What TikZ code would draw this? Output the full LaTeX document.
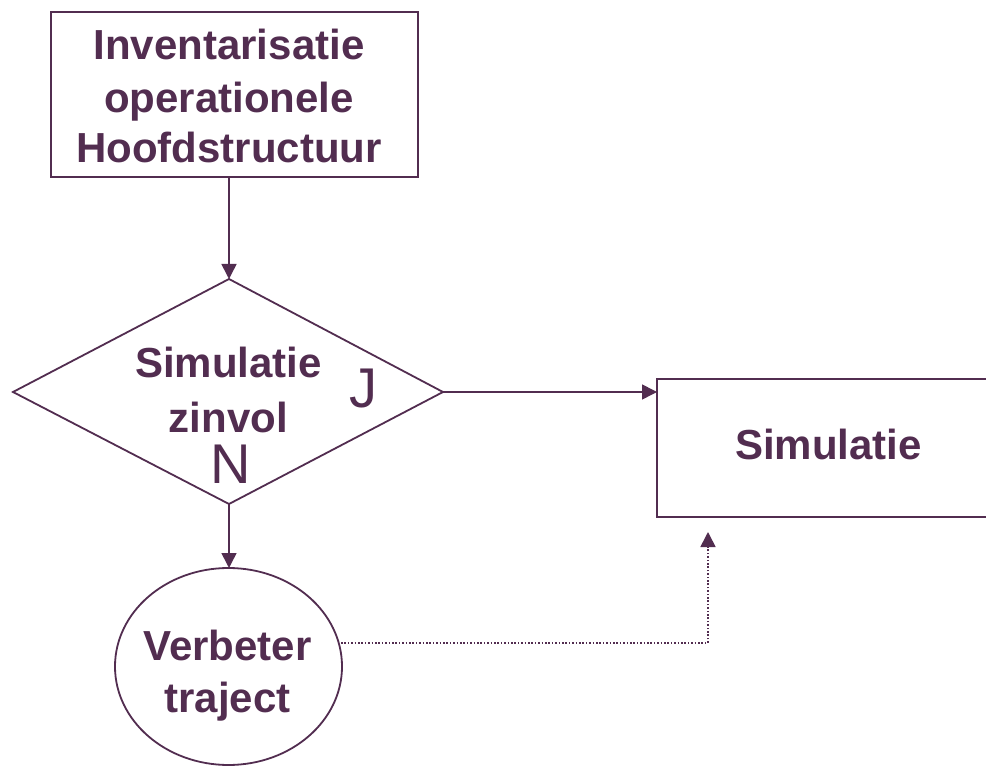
\documentclass[tikz,border=0pt]{standalone}
\usepackage{fontspec}
\setmainfont{Liberation Sans}
\usetikzlibrary{arrows.meta,shapes.geometric}
\definecolor{plum}{RGB}{82,45,80}
\begin{document}
\begin{tikzpicture}[x=1pt,y=-1pt,
  shapeline/.style={draw=plum,line width=1.8pt,inner sep=0pt,outer sep=0pt},
  conn/.style={draw=plum,line width=1.6pt,-{Triangle[length=15pt,width=15pt]}},
  dotconn/.style={draw=plum,line width=1.6pt,dash pattern=on 1.6pt off 1.8pt,-{Triangle[length=15pt,width=15pt]}},
  lbl/.style={text=plum,font=\fontsize{42}{52}\selectfont\bfseries,anchor=base,inner sep=0pt},
  letter/.style={text=plum,font=\fontsize{56}{60}\selectfont,anchor=base,inner sep=0pt}]
\useasboundingbox (0,0) rectangle (986,767);
\clip (0,0) rectangle (986,767);
\fill[white] (0,0) rectangle (986,767);

% top box
\node[shapeline,rectangle,minimum width=367pt,minimum height=165pt] (inv) at (234.5,94.5) {};
\node[lbl] (t1) at (229,60) {Inventarisatie};
\node[lbl] (t2) at (229,113) {operationele};
\node[lbl] (t3) at (229,163) {Hoofdstructuur};

% decision diamond
\coordinate (dT) at (229,279);
\coordinate (dR) at (443,392);
\coordinate (dB) at (229,504);
\coordinate (dL) at (13,392);
\draw[shapeline] (dT) -- (dR) -- (dB) -- (dL) -- cycle;
\node[lbl] (d1) at (228.5,378) {Simulatie};
\node[lbl] (d2) at (228.5,432) {zinvol};
\node[letter] (J) at (363,408) {J};
\node[letter] (N) at (231,483) {N};

% simulation box (runs off the right edge)
\node[shapeline,rectangle,minimum width=343pt,minimum height=138pt] (sim) at (828.5,448) {};
\node[lbl] (simt) at (828.5,460) {Simulatie};

% improvement ellipse
\node[shapeline,ellipse,minimum width=227pt,minimum height=197pt] (verb) at (228.5,666.5) {};
\node[lbl] (v1) at (227.5,660) {Verbeter};
\node[lbl] (v2) at (227.5,712) {traject};

% connectors
\draw[conn] (inv.south -| dT) -- (dT);
\draw[conn] (dR) -- (sim.west |- dR);
\draw[conn] (dB) -- (dB |- verb.north);
\coordinate (dS) at (341,643);
\coordinate (dE) at (708,532);
\draw[dotconn] (dS) -| (dE);
\end{tikzpicture}
\end{document}
